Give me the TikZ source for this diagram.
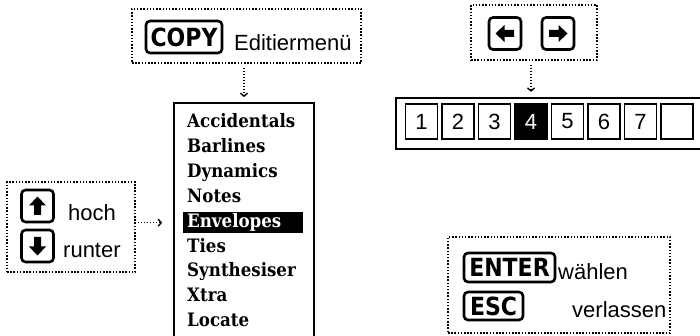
\documentclass[tikz,border=0pt]{standalone}
\usepackage{fontspec}
\setmainfont{Liberation Sans}
\newfontfamily\keyfont{DejaVu Sans}[FakeStretch=0.88]
\newfontfamily\menufont{DejaVu Serif}[FakeStretch=0.9]
\usetikzlibrary{arrows.meta}

\begin{document}
\begin{tikzpicture}[
x=1pt, y=-1pt,
every node/.style={
inner sep=0pt,
font=\fontsize{22}{26}\selectfont
},
arrow/.style={line width=1.4pt, dash pattern=on 1.4pt off 1.6pt,
-{Straight Barb[length=3pt,width=7pt]}, shorten <=4pt, shorten >=5pt}
]

\useasboundingbox (0,0) rectangle (700,336);

% =====================================================
% Styles
% =====================================================

\tikzstyle{group} =
[draw, line width=1.5pt,
dash pattern=on 1.5pt off 1.7pt]

\tikzstyle{keycap} =
[draw, line width=2.6pt, rounded corners=4pt,
minimum height=30pt, inner xsep=3pt,
font=\keyfont\bfseries\fontsize{25}{28}\selectfont]

\tikzstyle{arrowkey} =
[keycap, minimum width=32pt, minimum height=32pt]

\tikzstyle{hint} =
[anchor=west]

\tikzstyle{item} =
[anchor=west, inner xsep=4pt,
text height=13pt, text depth=4pt,
font=\menufont\bfseries\fontsize{18.5}{22}\selectfont]

\tikzstyle{itemsel} =
[item, fill=black, text=white,
text width=112pt, minimum height=21pt]

\tikzstyle{cell} =
[draw, line width=1.8pt,
minimum width=32pt, minimum height=35pt]

\tikzstyle{cellsel} =
[cell, fill=black, text=white]

% =====================================================
% Nodes
% =====================================================

\node (copyframe) [group, minimum width=229pt, minimum height=54pt] at (246.5,36) {};
\node (copykey) [keycap, minimum width=76pt, minimum height=32pt] at (184,37) {COPY};
\node (copytext) [hint] at (234,42.5) {Editiermenü};

\node (keysframe) [group, minimum width=126pt, minimum height=55pt] at (534,32.5) {};
\node (leftkey) [arrowkey] at (505,33.5) {};
\node (rightkey) [arrowkey] at (558,33.5) {};

\node (moveframe) [group, minimum width=128pt, minimum height=90pt] at (71,227) {};
\node (upkey) [arrowkey] at (37.5,206) {};
\node (hoch) [hint] at (68,213) {hoch};
\node (downkey) [arrowkey] at (37.5,246) {};
\node (runter) [hint] at (63,250) {runter};

% arrow marks on the cursor keys
\foreach \k/\a in {leftkey/90, rightkey/-90, upkey/0, downkey/180}
{
\begin{scope}[shift={(\k.center)}, rotate=\a]
\fill (-3.5pt,-9pt) -- (3.5pt,-9pt) -- (3.5pt,0.5pt) -- (8.5pt,0.5pt) -- (0pt,9.5pt)
-- (-8.5pt,0.5pt) -- (-3.5pt,0.5pt) -- cycle;
\end{scope}
}

\node (menu) [draw, line width=1.8pt, minimum width=140pt, minimum height=245pt] at (244,225.5) {};
\foreach \name/\sty [count=\i] in {Accidentals/item, Barlines/item, Dynamics/item,
Notes/item, Envelopes/itemsel, Ties/item, Synthesiser/item, Xtra/item, Locate/item}
\node (item\i) [\sty] at (183,98.7+24.8*\i) {\name};

\node (numbar) [draw, line width=2.2pt, minimum width=306pt, minimum height=51pt] at (549,123.5) {};
\foreach \n/\sty [count=\i] in {1/cell, 2/cell, 3/cell, 4/cellsel, 5/cell, 6/cell, 7/cell, /cell}
\node (cell\i) [\sty] at (385+36.5*\i,121.5) {\n};

\node (enterframe) [group, minimum width=222pt, minimum height=96pt] at (559,285) {};
\node (enterkey) [keycap, minimum width=91pt, minimum height=29pt] at (509.5,267.5) {ENTER};
\node (waehlen) [hint] at (558,272) {wählen};
\node (esckey) [keycap, minimum width=59pt, minimum height=28pt] at (493.5,306) {ESC};
\node (verlassen) [hint] at (572,310) {verlassen};

% =====================================================
% Arrows
% =====================================================

\draw [arrow] (copyframe.south -| menu.north) -- (menu.north);

\draw [arrow, shorten <=2pt, shorten >=11pt] (moveframe.east |- item5) -- (item5 -| menu.west);

\draw [arrow] (keysframe.south -| cell4) -- (cell4 |- numbar.north);

\end{tikzpicture}
\end{document}
